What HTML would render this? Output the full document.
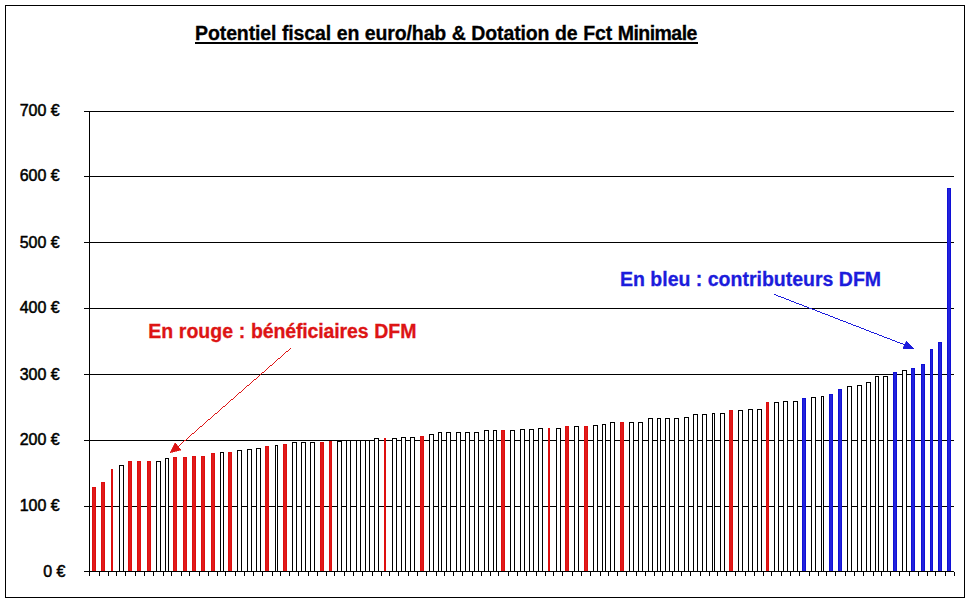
<!DOCTYPE html>
<html><head><meta charset="utf-8"><title>Potentiel fiscal</title>
<style>
html,body{margin:0;padding:0;background:#fff;}
body{width:970px;height:602px;overflow:hidden;position:relative;font-family:"Liberation Sans",sans-serif;}
svg{position:absolute;left:0;top:0;display:block;}
.t{position:absolute;white-space:nowrap;line-height:1;}
</style></head><body>
<svg width="970" height="602" viewBox="0 0 970 602" shape-rendering="crispEdges">
<rect x="0" y="0" width="970" height="602" fill="#fff"/>
<rect x="5.5" y="5.5" width="959" height="592" fill="none" stroke="#000" stroke-width="1"/>
<rect x="84" y="111" width="870" height="1" fill="#000"/>
<rect x="84" y="176" width="870" height="1" fill="#000"/>
<rect x="84" y="242" width="870" height="1" fill="#000"/>
<rect x="84" y="308" width="870" height="1" fill="#000"/>
<rect x="84" y="374" width="870" height="1" fill="#000"/>
<rect x="84" y="440" width="870" height="1" fill="#000"/>
<rect x="84" y="506" width="870" height="1" fill="#000"/>
<rect x="84" y="571" width="870" height="1" fill="#000"/>
<rect x="89" y="111" width="1" height="465" fill="#000"/>
<rect x="99" y="572" width="1" height="4" fill="#000"/>
<rect x="108" y="572" width="1" height="4" fill="#000"/>
<rect x="116" y="572" width="1" height="4" fill="#000"/>
<rect x="125" y="572" width="1" height="4" fill="#000"/>
<rect x="135" y="572" width="1" height="4" fill="#000"/>
<rect x="144" y="572" width="1" height="4" fill="#000"/>
<rect x="153" y="572" width="1" height="4" fill="#000"/>
<rect x="163" y="572" width="1" height="4" fill="#000"/>
<rect x="171" y="572" width="1" height="4" fill="#000"/>
<rect x="181" y="572" width="1" height="4" fill="#000"/>
<rect x="189" y="572" width="1" height="4" fill="#000"/>
<rect x="199" y="572" width="1" height="4" fill="#000"/>
<rect x="208" y="572" width="1" height="4" fill="#000"/>
<rect x="217" y="572" width="1" height="4" fill="#000"/>
<rect x="225" y="572" width="1" height="4" fill="#000"/>
<rect x="235" y="572" width="1" height="4" fill="#000"/>
<rect x="244" y="572" width="1" height="4" fill="#000"/>
<rect x="253" y="572" width="1" height="4" fill="#000"/>
<rect x="262" y="572" width="1" height="4" fill="#000"/>
<rect x="272" y="572" width="1" height="4" fill="#000"/>
<rect x="280" y="572" width="1" height="4" fill="#000"/>
<rect x="289" y="572" width="1" height="4" fill="#000"/>
<rect x="298" y="572" width="1" height="4" fill="#000"/>
<rect x="308" y="572" width="1" height="4" fill="#000"/>
<rect x="317" y="572" width="1" height="4" fill="#000"/>
<rect x="326" y="572" width="1" height="4" fill="#000"/>
<rect x="334" y="572" width="1" height="4" fill="#000"/>
<rect x="344" y="572" width="1" height="4" fill="#000"/>
<rect x="353" y="572" width="1" height="4" fill="#000"/>
<rect x="362" y="572" width="1" height="4" fill="#000"/>
<rect x="372" y="572" width="1" height="4" fill="#000"/>
<rect x="381" y="572" width="1" height="4" fill="#000"/>
<rect x="389" y="572" width="1" height="4" fill="#000"/>
<rect x="398" y="572" width="1" height="4" fill="#000"/>
<rect x="408" y="572" width="1" height="4" fill="#000"/>
<rect x="417" y="572" width="1" height="4" fill="#000"/>
<rect x="426" y="572" width="1" height="4" fill="#000"/>
<rect x="436" y="572" width="1" height="4" fill="#000"/>
<rect x="444" y="572" width="1" height="4" fill="#000"/>
<rect x="453" y="572" width="1" height="4" fill="#000"/>
<rect x="462" y="572" width="1" height="4" fill="#000"/>
<rect x="472" y="572" width="1" height="4" fill="#000"/>
<rect x="481" y="572" width="1" height="4" fill="#000"/>
<rect x="490" y="572" width="1" height="4" fill="#000"/>
<rect x="498" y="572" width="1" height="4" fill="#000"/>
<rect x="508" y="572" width="1" height="4" fill="#000"/>
<rect x="517" y="572" width="1" height="4" fill="#000"/>
<rect x="526" y="572" width="1" height="4" fill="#000"/>
<rect x="536" y="572" width="1" height="4" fill="#000"/>
<rect x="545" y="572" width="1" height="4" fill="#000"/>
<rect x="553" y="572" width="1" height="4" fill="#000"/>
<rect x="562" y="572" width="1" height="4" fill="#000"/>
<rect x="572" y="572" width="1" height="4" fill="#000"/>
<rect x="581" y="572" width="1" height="4" fill="#000"/>
<rect x="590" y="572" width="1" height="4" fill="#000"/>
<rect x="600" y="572" width="1" height="4" fill="#000"/>
<rect x="608" y="572" width="1" height="4" fill="#000"/>
<rect x="617" y="572" width="1" height="4" fill="#000"/>
<rect x="626" y="572" width="1" height="4" fill="#000"/>
<rect x="636" y="572" width="1" height="4" fill="#000"/>
<rect x="645" y="572" width="1" height="4" fill="#000"/>
<rect x="654" y="572" width="1" height="4" fill="#000"/>
<rect x="662" y="572" width="1" height="4" fill="#000"/>
<rect x="672" y="572" width="1" height="4" fill="#000"/>
<rect x="681" y="572" width="1" height="4" fill="#000"/>
<rect x="690" y="572" width="1" height="4" fill="#000"/>
<rect x="700" y="572" width="1" height="4" fill="#000"/>
<rect x="709" y="572" width="1" height="4" fill="#000"/>
<rect x="717" y="572" width="1" height="4" fill="#000"/>
<rect x="726" y="572" width="1" height="4" fill="#000"/>
<rect x="735" y="572" width="1" height="4" fill="#000"/>
<rect x="745" y="572" width="1" height="4" fill="#000"/>
<rect x="754" y="572" width="1" height="4" fill="#000"/>
<rect x="763" y="572" width="1" height="4" fill="#000"/>
<rect x="771" y="572" width="1" height="4" fill="#000"/>
<rect x="781" y="572" width="1" height="4" fill="#000"/>
<rect x="790" y="572" width="1" height="4" fill="#000"/>
<rect x="799" y="572" width="1" height="4" fill="#000"/>
<rect x="809" y="572" width="1" height="4" fill="#000"/>
<rect x="818" y="572" width="1" height="4" fill="#000"/>
<rect x="826" y="572" width="1" height="4" fill="#000"/>
<rect x="835" y="572" width="1" height="4" fill="#000"/>
<rect x="845" y="572" width="1" height="4" fill="#000"/>
<rect x="854" y="572" width="1" height="4" fill="#000"/>
<rect x="863" y="572" width="1" height="4" fill="#000"/>
<rect x="873" y="572" width="1" height="4" fill="#000"/>
<rect x="881" y="572" width="1" height="4" fill="#000"/>
<rect x="890" y="572" width="1" height="4" fill="#000"/>
<rect x="899" y="572" width="1" height="4" fill="#000"/>
<rect x="909" y="572" width="1" height="4" fill="#000"/>
<rect x="918" y="572" width="1" height="4" fill="#000"/>
<rect x="927" y="572" width="1" height="4" fill="#000"/>
<rect x="935" y="572" width="1" height="4" fill="#000"/>
<rect x="945" y="572" width="1" height="4" fill="#000"/>
<rect x="954" y="572" width="1" height="4" fill="#000"/>
<rect x="92" y="487" width="4" height="84" fill="#de0e0e"/><rect x="93" y="488" width="2" height="83" fill="#e01a1a"/>
<rect x="101" y="482" width="4" height="89" fill="#de0e0e"/><rect x="102" y="483" width="2" height="88" fill="#e01a1a"/>
<rect x="111" y="469" width="2" height="102" fill="#de0e0e"/><rect x="119" y="465" width="5" height="106" fill="#000"/><rect x="120" y="466" width="3" height="105" fill="#fff"/>
<rect x="128" y="461" width="4" height="110" fill="#de0e0e"/><rect x="129" y="462" width="2" height="109" fill="#e01a1a"/>
<rect x="137" y="461" width="4" height="110" fill="#de0e0e"/><rect x="138" y="462" width="2" height="109" fill="#e01a1a"/>
<rect x="147" y="461" width="4" height="110" fill="#de0e0e"/><rect x="148" y="462" width="2" height="109" fill="#e01a1a"/>
<rect x="156" y="461" width="5" height="110" fill="#000"/><rect x="157" y="462" width="3" height="109" fill="#fff"/>
<rect x="165" y="458" width="4" height="113" fill="#000"/><rect x="166" y="459" width="2" height="112" fill="#fff"/>
<rect x="173" y="457" width="4" height="114" fill="#de0e0e"/><rect x="174" y="458" width="2" height="113" fill="#e01a1a"/>
<rect x="183" y="457" width="4" height="114" fill="#de0e0e"/><rect x="184" y="458" width="2" height="113" fill="#e01a1a"/>
<rect x="192" y="456" width="4" height="115" fill="#de0e0e"/><rect x="193" y="457" width="2" height="114" fill="#e01a1a"/>
<rect x="201" y="456" width="4" height="115" fill="#de0e0e"/><rect x="202" y="457" width="2" height="114" fill="#e01a1a"/>
<rect x="211" y="453" width="4" height="118" fill="#de0e0e"/><rect x="212" y="454" width="2" height="117" fill="#e01a1a"/>
<rect x="220" y="452" width="4" height="119" fill="#000"/><rect x="221" y="453" width="2" height="118" fill="#fff"/>
<rect x="228" y="452" width="4" height="119" fill="#de0e0e"/><rect x="229" y="453" width="2" height="118" fill="#e01a1a"/>
<rect x="237" y="450" width="5" height="121" fill="#000"/><rect x="238" y="451" width="3" height="120" fill="#fff"/>
<rect x="247" y="449" width="5" height="122" fill="#000"/><rect x="248" y="450" width="3" height="121" fill="#fff"/>
<rect x="256" y="448" width="5" height="123" fill="#000"/><rect x="257" y="449" width="3" height="122" fill="#fff"/>
<rect x="265" y="446" width="4" height="125" fill="#de0e0e"/><rect x="266" y="447" width="2" height="124" fill="#e01a1a"/>
<rect x="275" y="445" width="3" height="126" fill="#000"/><rect x="276" y="446" width="1" height="125" fill="#fff"/>
<rect x="283" y="444" width="4" height="127" fill="#de0e0e"/><rect x="284" y="445" width="2" height="126" fill="#e01a1a"/>
<rect x="292" y="442" width="5" height="129" fill="#000"/><rect x="293" y="443" width="3" height="128" fill="#fff"/>
<rect x="301" y="442" width="5" height="129" fill="#000"/><rect x="302" y="443" width="3" height="128" fill="#fff"/>
<rect x="310" y="442" width="5" height="129" fill="#000"/><rect x="311" y="443" width="3" height="128" fill="#fff"/>
<rect x="320" y="442" width="4" height="129" fill="#de0e0e"/><rect x="321" y="443" width="2" height="128" fill="#e01a1a"/>
<rect x="329" y="441" width="3" height="130" fill="#de0e0e"/><rect x="330" y="442" width="1" height="129" fill="#e01a1a"/>
<rect x="337" y="441" width="5" height="130" fill="#000"/><rect x="338" y="442" width="3" height="129" fill="#fff"/>
<rect x="346" y="440" width="5" height="131" fill="#000"/><rect x="347" y="441" width="3" height="130" fill="#fff"/>
<rect x="356" y="440" width="5" height="131" fill="#000"/><rect x="357" y="441" width="3" height="130" fill="#fff"/>
<rect x="365" y="440" width="5" height="131" fill="#000"/><rect x="366" y="441" width="3" height="130" fill="#fff"/>
<rect x="374" y="438" width="5" height="133" fill="#000"/><rect x="375" y="439" width="3" height="132" fill="#fff"/>
<rect x="384" y="438" width="2" height="133" fill="#de0e0e"/><rect x="392" y="438" width="5" height="133" fill="#000"/><rect x="393" y="439" width="3" height="132" fill="#fff"/>
<rect x="401" y="437" width="5" height="134" fill="#000"/><rect x="402" y="438" width="3" height="133" fill="#fff"/>
<rect x="410" y="437" width="5" height="134" fill="#000"/><rect x="411" y="438" width="3" height="133" fill="#fff"/>
<rect x="420" y="436" width="4" height="135" fill="#de0e0e"/><rect x="421" y="437" width="2" height="134" fill="#e01a1a"/>
<rect x="429" y="434" width="5" height="137" fill="#000"/><rect x="430" y="435" width="3" height="136" fill="#fff"/>
<rect x="438" y="432" width="4" height="139" fill="#000"/><rect x="439" y="433" width="2" height="138" fill="#fff"/>
<rect x="446" y="432" width="5" height="139" fill="#000"/><rect x="447" y="433" width="3" height="138" fill="#fff"/>
<rect x="456" y="432" width="5" height="139" fill="#000"/><rect x="457" y="433" width="3" height="138" fill="#fff"/>
<rect x="465" y="432" width="5" height="139" fill="#000"/><rect x="466" y="433" width="3" height="138" fill="#fff"/>
<rect x="474" y="432" width="5" height="139" fill="#000"/><rect x="475" y="433" width="3" height="138" fill="#fff"/>
<rect x="484" y="430" width="5" height="141" fill="#000"/><rect x="485" y="431" width="3" height="140" fill="#fff"/>
<rect x="493" y="430" width="4" height="141" fill="#000"/><rect x="494" y="431" width="2" height="140" fill="#fff"/>
<rect x="501" y="430" width="4" height="141" fill="#de0e0e"/><rect x="502" y="431" width="2" height="140" fill="#e01a1a"/>
<rect x="510" y="430" width="5" height="141" fill="#000"/><rect x="511" y="431" width="3" height="140" fill="#fff"/>
<rect x="520" y="429" width="5" height="142" fill="#000"/><rect x="521" y="430" width="3" height="141" fill="#fff"/>
<rect x="529" y="429" width="5" height="142" fill="#000"/><rect x="530" y="430" width="3" height="141" fill="#fff"/>
<rect x="538" y="428" width="5" height="143" fill="#000"/><rect x="539" y="429" width="3" height="142" fill="#fff"/>
<rect x="548" y="428" width="2" height="143" fill="#de0e0e"/><rect x="556" y="428" width="5" height="143" fill="#000"/><rect x="557" y="429" width="3" height="142" fill="#fff"/>
<rect x="565" y="426" width="4" height="145" fill="#de0e0e"/><rect x="566" y="427" width="2" height="144" fill="#e01a1a"/>
<rect x="574" y="426" width="5" height="145" fill="#000"/><rect x="575" y="427" width="3" height="144" fill="#fff"/>
<rect x="584" y="426" width="4" height="145" fill="#de0e0e"/><rect x="585" y="427" width="2" height="144" fill="#e01a1a"/>
<rect x="593" y="425" width="5" height="146" fill="#000"/><rect x="594" y="426" width="3" height="145" fill="#fff"/>
<rect x="602" y="424" width="4" height="147" fill="#000"/><rect x="603" y="425" width="2" height="146" fill="#fff"/>
<rect x="610" y="422" width="5" height="149" fill="#000"/><rect x="611" y="423" width="3" height="148" fill="#fff"/>
<rect x="620" y="422" width="4" height="149" fill="#de0e0e"/><rect x="621" y="423" width="2" height="148" fill="#e01a1a"/>
<rect x="629" y="422" width="5" height="149" fill="#000"/><rect x="630" y="423" width="3" height="148" fill="#fff"/>
<rect x="638" y="422" width="5" height="149" fill="#000"/><rect x="639" y="423" width="3" height="148" fill="#fff"/>
<rect x="648" y="418" width="5" height="153" fill="#000"/><rect x="649" y="419" width="3" height="152" fill="#fff"/>
<rect x="657" y="418" width="4" height="153" fill="#000"/><rect x="658" y="419" width="2" height="152" fill="#fff"/>
<rect x="665" y="418" width="5" height="153" fill="#000"/><rect x="666" y="419" width="3" height="152" fill="#fff"/>
<rect x="674" y="418" width="5" height="153" fill="#000"/><rect x="675" y="419" width="3" height="152" fill="#fff"/>
<rect x="684" y="417" width="5" height="154" fill="#000"/><rect x="685" y="418" width="3" height="153" fill="#fff"/>
<rect x="693" y="414" width="5" height="157" fill="#000"/><rect x="694" y="415" width="3" height="156" fill="#fff"/>
<rect x="702" y="414" width="5" height="157" fill="#000"/><rect x="703" y="415" width="3" height="156" fill="#fff"/>
<rect x="712" y="413" width="3" height="158" fill="#000"/><rect x="713" y="414" width="1" height="157" fill="#fff"/>
<rect x="720" y="413" width="5" height="158" fill="#000"/><rect x="721" y="414" width="3" height="157" fill="#fff"/>
<rect x="729" y="410" width="4" height="161" fill="#de0e0e"/><rect x="730" y="411" width="2" height="160" fill="#e01a1a"/>
<rect x="738" y="410" width="5" height="161" fill="#000"/><rect x="739" y="411" width="3" height="160" fill="#fff"/>
<rect x="748" y="409" width="5" height="162" fill="#000"/><rect x="749" y="410" width="3" height="161" fill="#fff"/>
<rect x="757" y="409" width="5" height="162" fill="#000"/><rect x="758" y="410" width="3" height="161" fill="#fff"/>
<rect x="766" y="402" width="3" height="169" fill="#de0e0e"/><rect x="767" y="403" width="1" height="168" fill="#e01a1a"/>
<rect x="774" y="402" width="5" height="169" fill="#000"/><rect x="775" y="403" width="3" height="168" fill="#fff"/>
<rect x="783" y="401" width="5" height="170" fill="#000"/><rect x="784" y="402" width="3" height="169" fill="#fff"/>
<rect x="793" y="401" width="5" height="170" fill="#000"/><rect x="794" y="402" width="3" height="169" fill="#fff"/>
<rect x="802" y="398" width="4" height="173" fill="#1010d6"/><rect x="803" y="399" width="2" height="172" fill="#2222dc"/>
<rect x="811" y="397" width="5" height="174" fill="#000"/><rect x="812" y="398" width="3" height="173" fill="#fff"/>
<rect x="821" y="396" width="3" height="175" fill="#000"/><rect x="822" y="397" width="1" height="174" fill="#fff"/>
<rect x="829" y="394" width="4" height="177" fill="#1010d6"/><rect x="830" y="395" width="2" height="176" fill="#2222dc"/>
<rect x="838" y="389" width="4" height="182" fill="#1010d6"/><rect x="839" y="390" width="2" height="181" fill="#2222dc"/>
<rect x="847" y="386" width="5" height="185" fill="#000"/><rect x="848" y="387" width="3" height="184" fill="#fff"/>
<rect x="857" y="385" width="5" height="186" fill="#000"/><rect x="858" y="386" width="3" height="185" fill="#fff"/>
<rect x="866" y="382" width="5" height="189" fill="#000"/><rect x="867" y="383" width="3" height="188" fill="#fff"/>
<rect x="875" y="376" width="4" height="195" fill="#000"/><rect x="876" y="377" width="2" height="194" fill="#fff"/>
<rect x="883" y="376" width="5" height="195" fill="#000"/><rect x="884" y="377" width="3" height="194" fill="#fff"/>
<rect x="893" y="372" width="4" height="199" fill="#1010d6"/><rect x="894" y="373" width="2" height="198" fill="#2222dc"/>
<rect x="902" y="370" width="5" height="201" fill="#000"/><rect x="903" y="371" width="3" height="200" fill="#fff"/>
<rect x="911" y="368" width="4" height="203" fill="#1010d6"/><rect x="912" y="369" width="2" height="202" fill="#2222dc"/>
<rect x="921" y="364" width="4" height="207" fill="#1010d6"/><rect x="922" y="365" width="2" height="206" fill="#2222dc"/>
<rect x="930" y="349" width="3" height="222" fill="#1010d6"/><rect x="931" y="350" width="1" height="221" fill="#2222dc"/>
<rect x="938" y="342" width="4" height="229" fill="#1010d6"/><rect x="939" y="343" width="2" height="228" fill="#2222dc"/>
<rect x="947" y="188" width="4" height="383" fill="#1010d6"/><rect x="948" y="189" width="2" height="382" fill="#2222dc"/>
<rect x="177" y="447" width="1" height="1" fill="#dd1414"/><rect x="178" y="446" width="1" height="1" fill="#dd1414"/><rect x="179" y="445" width="1" height="1" fill="#dd1414"/><rect x="180" y="444" width="1" height="1" fill="#dd1414"/><rect x="181" y="443" width="1" height="1" fill="#dd1414"/><rect x="182" y="442" width="1" height="1" fill="#dd1414"/><rect x="183" y="441" width="1" height="1" fill="#dd1414"/><rect x="184" y="440" width="2" height="1" fill="#dd1414"/><rect x="186" y="439" width="1" height="1" fill="#dd1414"/><rect x="187" y="438" width="1" height="1" fill="#dd1414"/><rect x="188" y="437" width="1" height="1" fill="#dd1414"/><rect x="189" y="436" width="1" height="1" fill="#dd1414"/><rect x="190" y="435" width="1" height="1" fill="#dd1414"/><rect x="191" y="434" width="1" height="1" fill="#dd1414"/><rect x="192" y="433" width="2" height="1" fill="#dd1414"/><rect x="194" y="432" width="1" height="1" fill="#dd1414"/><rect x="195" y="431" width="1" height="1" fill="#dd1414"/><rect x="196" y="430" width="1" height="1" fill="#dd1414"/><rect x="197" y="429" width="1" height="1" fill="#dd1414"/><rect x="198" y="428" width="1" height="1" fill="#dd1414"/><rect x="199" y="427" width="1" height="1" fill="#dd1414"/><rect x="200" y="426" width="2" height="1" fill="#dd1414"/><rect x="202" y="425" width="1" height="1" fill="#dd1414"/><rect x="203" y="424" width="1" height="1" fill="#dd1414"/><rect x="204" y="423" width="1" height="1" fill="#dd1414"/><rect x="205" y="422" width="1" height="1" fill="#dd1414"/><rect x="206" y="421" width="1" height="1" fill="#dd1414"/><rect x="207" y="420" width="1" height="1" fill="#dd1414"/><rect x="208" y="419" width="2" height="1" fill="#dd1414"/><rect x="210" y="418" width="1" height="1" fill="#dd1414"/><rect x="211" y="417" width="1" height="1" fill="#dd1414"/><rect x="212" y="416" width="1" height="1" fill="#dd1414"/><rect x="213" y="415" width="1" height="1" fill="#dd1414"/><rect x="214" y="414" width="1" height="1" fill="#dd1414"/><rect x="215" y="413" width="2" height="1" fill="#dd1414"/><rect x="217" y="412" width="1" height="1" fill="#dd1414"/><rect x="218" y="411" width="1" height="1" fill="#dd1414"/><rect x="219" y="410" width="1" height="1" fill="#dd1414"/><rect x="220" y="409" width="1" height="1" fill="#dd1414"/><rect x="221" y="408" width="1" height="1" fill="#dd1414"/><rect x="222" y="407" width="1" height="1" fill="#dd1414"/><rect x="223" y="406" width="2" height="1" fill="#dd1414"/><rect x="225" y="405" width="1" height="1" fill="#dd1414"/><rect x="226" y="404" width="1" height="1" fill="#dd1414"/><rect x="227" y="403" width="1" height="1" fill="#dd1414"/><rect x="228" y="402" width="1" height="1" fill="#dd1414"/><rect x="229" y="401" width="1" height="1" fill="#dd1414"/><rect x="230" y="400" width="1" height="1" fill="#dd1414"/><rect x="231" y="399" width="2" height="1" fill="#dd1414"/><rect x="233" y="398" width="1" height="1" fill="#dd1414"/><rect x="234" y="397" width="1" height="1" fill="#dd1414"/><rect x="235" y="396" width="1" height="1" fill="#dd1414"/><rect x="236" y="395" width="1" height="1" fill="#dd1414"/><rect x="237" y="394" width="1" height="1" fill="#dd1414"/><rect x="238" y="393" width="1" height="1" fill="#dd1414"/><rect x="239" y="392" width="2" height="1" fill="#dd1414"/><rect x="241" y="391" width="1" height="1" fill="#dd1414"/><rect x="242" y="390" width="1" height="1" fill="#dd1414"/><rect x="243" y="389" width="1" height="1" fill="#dd1414"/><rect x="244" y="388" width="1" height="1" fill="#dd1414"/><rect x="245" y="387" width="1" height="1" fill="#dd1414"/><rect x="246" y="386" width="1" height="1" fill="#dd1414"/><rect x="247" y="385" width="2" height="1" fill="#dd1414"/><rect x="249" y="384" width="1" height="1" fill="#dd1414"/><rect x="250" y="383" width="1" height="1" fill="#dd1414"/><rect x="251" y="382" width="1" height="1" fill="#dd1414"/><rect x="252" y="381" width="1" height="1" fill="#dd1414"/><rect x="253" y="380" width="1" height="1" fill="#dd1414"/><rect x="254" y="379" width="2" height="1" fill="#dd1414"/><rect x="256" y="378" width="1" height="1" fill="#dd1414"/><rect x="257" y="377" width="1" height="1" fill="#dd1414"/><rect x="258" y="376" width="1" height="1" fill="#dd1414"/><rect x="259" y="375" width="1" height="1" fill="#dd1414"/><rect x="260" y="374" width="1" height="1" fill="#dd1414"/><rect x="261" y="373" width="1" height="1" fill="#dd1414"/><rect x="262" y="372" width="2" height="1" fill="#dd1414"/><rect x="264" y="371" width="1" height="1" fill="#dd1414"/><rect x="265" y="370" width="1" height="1" fill="#dd1414"/><rect x="266" y="369" width="1" height="1" fill="#dd1414"/><rect x="267" y="368" width="1" height="1" fill="#dd1414"/><rect x="268" y="367" width="1" height="1" fill="#dd1414"/><rect x="269" y="366" width="1" height="1" fill="#dd1414"/><rect x="270" y="365" width="2" height="1" fill="#dd1414"/><rect x="272" y="364" width="1" height="1" fill="#dd1414"/><rect x="273" y="363" width="1" height="1" fill="#dd1414"/><rect x="274" y="362" width="1" height="1" fill="#dd1414"/><rect x="275" y="361" width="1" height="1" fill="#dd1414"/><rect x="276" y="360" width="1" height="1" fill="#dd1414"/><rect x="277" y="359" width="1" height="1" fill="#dd1414"/><rect x="278" y="358" width="2" height="1" fill="#dd1414"/><rect x="280" y="357" width="1" height="1" fill="#dd1414"/><rect x="281" y="356" width="1" height="1" fill="#dd1414"/><rect x="282" y="355" width="1" height="1" fill="#dd1414"/><rect x="283" y="354" width="1" height="1" fill="#dd1414"/><rect x="284" y="353" width="1" height="1" fill="#dd1414"/><rect x="285" y="352" width="1" height="1" fill="#dd1414"/><rect x="286" y="351" width="2" height="1" fill="#dd1414"/><rect x="288" y="350" width="1" height="1" fill="#dd1414"/><rect x="289" y="349" width="1" height="1" fill="#dd1414"/><rect x="290" y="348" width="1" height="1" fill="#dd1414"/>
<polygon points="170,452.8 175.3,442.9 181,450.1" fill="#dd1414" stroke="#dd1414" stroke-width="0.6"/>
<rect x="774" y="294" width="2" height="1" fill="#1c1cdc"/><rect x="776" y="295" width="2" height="1" fill="#1c1cdc"/><rect x="778" y="296" width="3" height="1" fill="#1c1cdc"/><rect x="781" y="297" width="3" height="1" fill="#1c1cdc"/><rect x="784" y="298" width="2" height="1" fill="#1c1cdc"/><rect x="786" y="299" width="3" height="1" fill="#1c1cdc"/><rect x="789" y="300" width="2" height="1" fill="#1c1cdc"/><rect x="791" y="301" width="3" height="1" fill="#1c1cdc"/><rect x="794" y="302" width="2" height="1" fill="#1c1cdc"/><rect x="796" y="303" width="3" height="1" fill="#1c1cdc"/><rect x="799" y="304" width="3" height="1" fill="#1c1cdc"/><rect x="802" y="305" width="2" height="1" fill="#1c1cdc"/><rect x="804" y="306" width="3" height="1" fill="#1c1cdc"/><rect x="807" y="307" width="2" height="1" fill="#1c1cdc"/><rect x="809" y="308" width="3" height="1" fill="#1c1cdc"/><rect x="812" y="309" width="3" height="1" fill="#1c1cdc"/><rect x="815" y="310" width="2" height="1" fill="#1c1cdc"/><rect x="817" y="311" width="3" height="1" fill="#1c1cdc"/><rect x="820" y="312" width="2" height="1" fill="#1c1cdc"/><rect x="822" y="313" width="3" height="1" fill="#1c1cdc"/><rect x="825" y="314" width="3" height="1" fill="#1c1cdc"/><rect x="828" y="315" width="2" height="1" fill="#1c1cdc"/><rect x="830" y="316" width="3" height="1" fill="#1c1cdc"/><rect x="833" y="317" width="2" height="1" fill="#1c1cdc"/><rect x="835" y="318" width="3" height="1" fill="#1c1cdc"/><rect x="838" y="319" width="2" height="1" fill="#1c1cdc"/><rect x="840" y="320" width="3" height="1" fill="#1c1cdc"/><rect x="843" y="321" width="3" height="1" fill="#1c1cdc"/><rect x="846" y="322" width="2" height="1" fill="#1c1cdc"/><rect x="848" y="323" width="3" height="1" fill="#1c1cdc"/><rect x="851" y="324" width="2" height="1" fill="#1c1cdc"/><rect x="853" y="325" width="3" height="1" fill="#1c1cdc"/><rect x="856" y="326" width="3" height="1" fill="#1c1cdc"/><rect x="859" y="327" width="2" height="1" fill="#1c1cdc"/><rect x="861" y="328" width="3" height="1" fill="#1c1cdc"/><rect x="864" y="329" width="2" height="1" fill="#1c1cdc"/><rect x="866" y="330" width="3" height="1" fill="#1c1cdc"/><rect x="869" y="331" width="2" height="1" fill="#1c1cdc"/><rect x="871" y="332" width="3" height="1" fill="#1c1cdc"/><rect x="874" y="333" width="3" height="1" fill="#1c1cdc"/><rect x="877" y="334" width="2" height="1" fill="#1c1cdc"/><rect x="879" y="335" width="3" height="1" fill="#1c1cdc"/><rect x="882" y="336" width="2" height="1" fill="#1c1cdc"/><rect x="884" y="337" width="3" height="1" fill="#1c1cdc"/><rect x="887" y="338" width="3" height="1" fill="#1c1cdc"/><rect x="890" y="339" width="2" height="1" fill="#1c1cdc"/><rect x="892" y="340" width="3" height="1" fill="#1c1cdc"/><rect x="895" y="341" width="2" height="1" fill="#1c1cdc"/><rect x="897" y="342" width="3" height="1" fill="#1c1cdc"/><rect x="900" y="343" width="3" height="1" fill="#1c1cdc"/><rect x="903" y="344" width="2" height="1" fill="#1c1cdc"/><rect x="905" y="345" width="1" height="1" fill="#1c1cdc"/>
<polygon points="914.2,348.8 906.4,340.9 902.9,348.8" fill="#1c1cdc" stroke="#1c1cdc" stroke-width="0.6"/>
</svg>
<div class="t" id="title" style="left:195.1px;top:24px;font-size:19.5px;letter-spacing:-0.125px;word-spacing:0.33px;font-weight:bold;color:#000;-webkit-text-stroke:0.3px #000;">Potentiel fiscal en euro/hab &amp; Dotation de Fct <span style="letter-spacing:-0.53px">Minimale</span></div>
<div id="ul" style="position:absolute;left:195px;top:42px;width:503px;height:2px;background:#000;"></div>
<div class="t" id="red" style="left:148.2px;top:322px;font-size:19.5px;font-weight:bold;color:#dd1414;-webkit-text-stroke:0.3px #dd1414;word-spacing:0.3px;">En rouge : <span style="letter-spacing:-0.125px">bénéficiaires</span> DFM</div>
<div class="t" id="blue" style="left:620.0px;top:270px;font-size:19.5px;font-weight:bold;color:#1c1cdc;-webkit-text-stroke:0.3px #1c1cdc;">En bleu : contributeurs DFM</div>
<div class="t yl" style="right:910.3px;top:103px;font-size:16px;color:#000;-webkit-text-stroke:0.5px #000;">700 €</div>
<div class="t yl" style="right:910.3px;top:168px;font-size:16px;color:#000;-webkit-text-stroke:0.5px #000;">600 €</div>
<div class="t yl" style="right:910.3px;top:235px;font-size:16px;color:#000;-webkit-text-stroke:0.5px #000;">500 €</div>
<div class="t yl" style="right:910.3px;top:300px;font-size:16px;color:#000;-webkit-text-stroke:0.5px #000;">400 €</div>
<div class="t yl" style="right:910.3px;top:367px;font-size:16px;color:#000;-webkit-text-stroke:0.5px #000;">300 €</div>
<div class="t yl" style="right:910.3px;top:432px;font-size:16px;color:#000;-webkit-text-stroke:0.5px #000;">200 €</div>
<div class="t yl" style="right:910.3px;top:498px;font-size:16px;color:#000;-webkit-text-stroke:0.5px #000;">100 €</div>
<div class="t yl" style="right:904.6px;top:564px;font-size:16px;color:#000;-webkit-text-stroke:0.5px #000;">0 €</div>
</body></html>
